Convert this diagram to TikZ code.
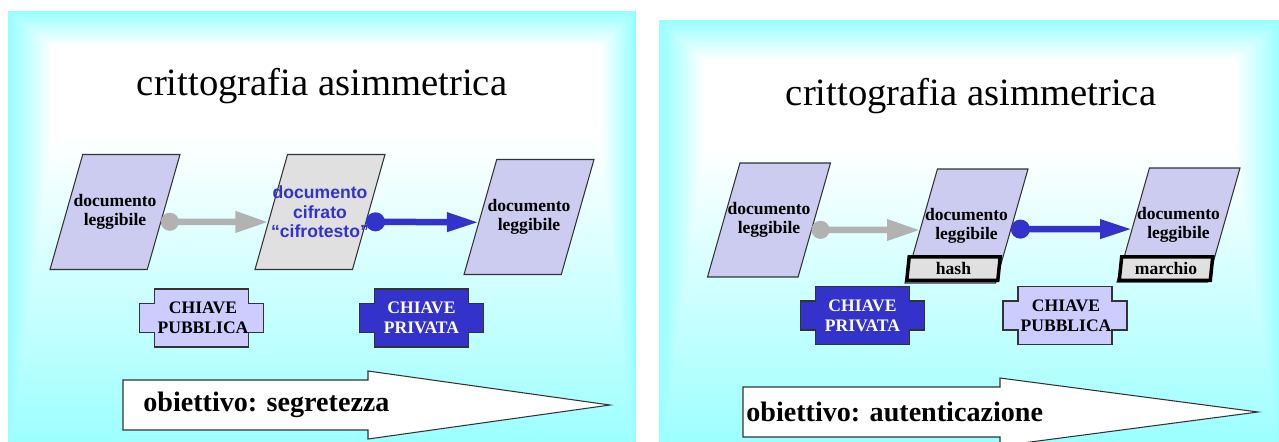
\documentclass[tikz,border=0pt]{standalone}
\usepackage{fontspec}
\setmainfont{Liberation Serif}
\newfontfamily\arialfont{Liberation Sans}
\usepackage{tikz}
\usetikzlibrary{arrows.meta,shapes.geometric}

\definecolor{slidecyan}{RGB}{150,255,255}
\definecolor{docfill}{RGB}{204,204,240}
\definecolor{keyfill}{RGB}{204,204,255}
\definecolor{keyblue}{RGB}{51,51,204}
\definecolor{cipherfill}{RGB}{224,224,224}
\definecolor{arrgray}{RGB}{178,178,178}

\begin{document}
\begin{tikzpicture}[x=0.02cm, y=-0.02cm,
  doc/.style={trapezium, trapezium left angle=74, trapezium right angle=106,
              trapezium stretches body=true, draw=black!80, line width=0.6pt, fill=docfill,
              minimum width=2.6cm, minimum height=2.3cm, inner xsep=-12pt, inner ysep=22.4pt,
              outer sep=0pt, align=center, font=\fontsize{10}{11}\selectfont\bfseries},
  smalldoc/.style={doc, minimum width=2.46cm, minimum height=2.28cm, inner ysep=22.1pt},
  tagbox/.style={trapezium, trapezium left angle=84, trapezium right angle=96,
                 trapezium stretches body=true, draw=black, line width=0.07cm, fill=cipherfill,
                 minimum width=1.87cm, minimum height=0.47cm, inner xsep=0pt, inner ysep=3.1pt,
                 font=\fontsize{10}{11}\selectfont\bfseries},
  keytext/.style={align=center, inner sep=0pt, font=\fontsize{10}{11.5}\selectfont\bfseries},
  keyplate/.pic={\filldraw[pic actions, draw=black!80, line width=0.6pt]
    (-62,-14.5) -- (-47,-14.5) -- (-47,-29) -- (47,-29) -- (47,-14.5) -- (62,-14.5)
    -- (62,14.5) -- (47,14.5) -- (47,29) -- (-47,29) -- (-47,14.5) -- (-62,14.5) -- cycle;},
  grayarr/.style={draw=arrgray, line width=0.13cm,
                  {Circle[length=0.36cm]}-{Triangle[length=0.66cm, width=0.4cm]}},
  bluearr/.style={draw=keyblue, line width=0.13cm,
                  {Circle[length=0.38cm]}-{Triangle[length=0.64cm, width=0.36cm]}},
  title/.style={inner sep=0pt, font=\fontsize{22}{26}\selectfont},
  goalarrow/.style={fill=white, draw=black!80, line width=0.6pt},
  goal/.style={anchor=west, inner sep=0pt, font=\fontsize{16}{18}\selectfont\bfseries}
]
  \useasboundingbox (0,0) rectangle (1279,441);

  % slide backgrounds
  \begin{scope}
    \clip (0,0) rectangle (1279,441);
    \foreach \i in {0,...,40}{
      \pgfmathsetmacro\t{\i/40}
      \pgfmathsetmacro\p{100-100*\t}
      \fill[slidecyan!\p!white] ({8+44*\t},{11+35*\t}) rectangle ({636-36*\t},{470-330*\t});
      \fill[slidecyan!\p!white] ({659+46*\t},{20+40*\t}) rectangle ({1282-47*\t},{470-320*\t});
    }
  \end{scope}

  % left slide
  \node[title] (titleL) at (322,86) {crittografia asimmetrica};

  \node[doc] (plainL) at (115,212) {documento\\leggibile};
  \node[doc, fill=cipherfill, text=keyblue, inner ysep=17.6pt,
        font=\fontsize{10}{11}\selectfont\arialfont\bfseries] (cipherL) at (320,212)
        {documento\\cifrato\\“cifrotesto”};
  \node[doc] (clearL) at (529,217) {documento\\leggibile};

  \draw[grayarr] (plainL.-12) -- (cipherL.191);
  \draw[bluearr] (cipherL.-12) -- (clearL.186);

  \pic[fill=keyfill] at (201.5,318) {keyplate};
  \node[keytext] (pubkeyL) at (203,318) {CHIAVE\\PUBBLICA};
  \pic[fill=keyblue] at (421.5,318) {keyplate};
  \node[keytext, text=white] (privkeyL) at (421.5,318) {CHIAVE\\PRIVATA};

  \draw[goalarrow] (123,380) -- (368,380) -- (368,371) -- (610,405) -- (368,439)
    -- (368,430) -- (123,430) -- cycle;
  \node[goal] (goalL) at (143,405) {obiettivo: segretezza};

  % right slide
  \node[title] (titleR) at (971,96) {crittografia asimmetrica};

  \node[smalldoc] (plainR) at (769,220) {documento\\leggibile};
  \node[smalldoc] (hashdocR) at (966.5,226) {documento\\leggibile};
  \node[smalldoc] (markdocR) at (1178.5,225) {documento\\leggibile};
  \node[tagbox] (hashR) at (953.5,268.5) {hash};
  \node[tagbox] (markR) at (1166,268.5) {marchio};

  \draw[grayarr] (plainR.-13) -- (hashdocR.185);
  \draw[bluearr] (hashdocR.-4) -- (markdocR.185);

  \pic[fill=keyblue] at (862.5,315.5) {keyplate};
  \node[keytext, text=white] (privkeyR) at (862.5,315.5) {CHIAVE\\PRIVATA};
  \pic[fill=keyfill] at (1065,315.5) {keyplate};
  \node[keytext] (pubkeyR) at (1066,315.5) {CHIAVE\\PUBBLICA};

  \draw[goalarrow] (743,387) -- (1000,387) -- (1000,378) -- (1258,412) -- (1000,446)
    -- (1000,437) -- (743,437) -- cycle;
  \node[goal] (goalR) at (746,412) {obiettivo: autenticazione};
\end{tikzpicture}
\end{document}
